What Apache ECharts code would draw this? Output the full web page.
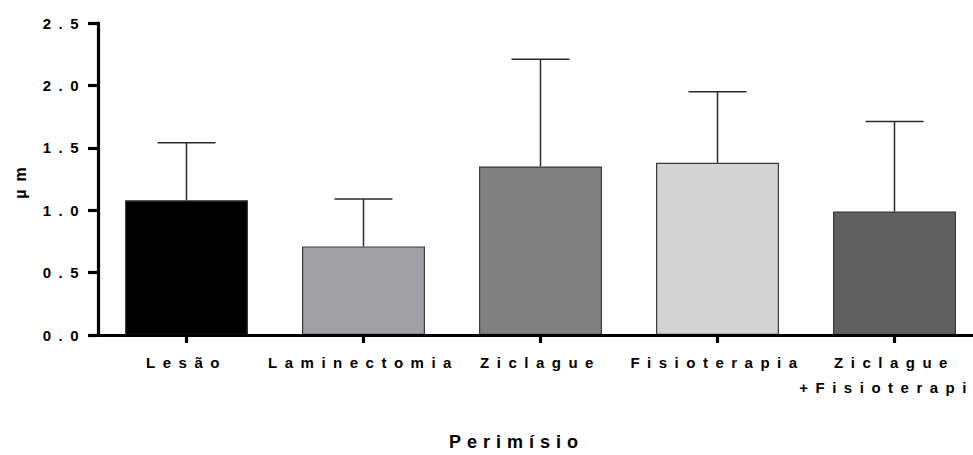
<!DOCTYPE html>
<html>
<head>
<meta charset="utf-8">
<script src="https://cdn.jsdelivr.net/npm/echarts@6/dist/echarts.min.js"></script>
<style>
  html, body { margin: 0; padding: 0; background: #fff; }
  #chart { width: 973px; height: 455px; }
  /* Prism-style wide tracking on the labels */
  #chart text { letter-spacing: 0.5em; }
  #chart text[style*="18px"] { letter-spacing: 6px; }
</style>
</head>
<body>
<div id="chart"></div>
<script>
// Group names, mean values and upper error limits (mean + SD)
const categories = ['Lesão', 'Laminectomia', 'Ziclague', 'Fisioterapia', 'Ziclague\n+Fisioterapia'];
const means = [1.08, 0.71, 1.35, 1.38, 0.99];
const upperLimits = [1.54, 1.09, 2.21, 1.95, 1.71];
const yTicks = [0, 0.5, 1.0, 1.5, 2.0, 2.5];
const barColors = ['#000000', '#a1a0a5', '#808080', '#d3d3d3', '#606060'];

const FONT = '"Liberation Sans", Arial, sans-serif';

const chart = echarts.init(document.getElementById('chart'), null, { renderer: 'svg' });

const errorData = categories.map((c, i) => [i, means[i], upperLimits[i]]);

const axisStroke = { color: '#000000', width: 3.2, type: 'solid', opacity: 1 };

chart.setOption({
  animation: false,
  backgroundColor: '#ffffff',
  title: {
    text: 'Perimísio',
    left: 449,
    top: 433,
    padding: 0,
    textStyle: { fontFamily: FONT, fontWeight: 'bold', fontSize: 18, color: '#000' }
  },
  grid: { left: 98, top: 23, width: 885, height: 312, outerBoundsMode: 'none', containLabel: false },
  xAxis: {
    type: 'category',
    data: categories,
    z: 5,
    axisLine: { show: true, lineStyle: axisStroke },
    axisTick: { show: true, alignWithLabel: true, length: 8, lineStyle: axisStroke },
    axisLabel: {
      interval: 0,
      margin: 15,
      fontFamily: FONT,
      fontWeight: 'bold',
      fontSize: 15,
      lineHeight: 25,
      color: '#000'
    }
  },
  yAxis: {
    type: 'value',
    min: yTicks[0],
    max: yTicks[yTicks.length - 1],
    interval: 0.5,
    z: 5,
    name: 'µm',
    nameLocation: 'middle',
    nameRotate: 90,
    nameGap: 70,
    nameTextStyle: { fontFamily: FONT, fontWeight: 'bold', fontSize: 16, color: '#000' },
    axisLine: { show: true, lineStyle: axisStroke },
    axisTick: { show: true, length: 10, lineStyle: axisStroke },
    splitLine: { show: false },
    axisLabel: {
      margin: 12,
      fontFamily: FONT,
      fontWeight: 'bold',
      fontSize: 15,
      color: '#000',
      formatter: v => v.toFixed(1)
    }
  },
  series: [
    {
      type: 'bar',
      barWidth: 123,
      data: means.map((v, i) => ({
        value: v,
        itemStyle: { color: barColors[i], borderColor: '#3a3a3a', borderWidth: 1.2 }
      })),
      z: 2
    },
    {
      // upper error bars with caps
      type: 'custom',
      data: errorData,
      z: 3,
      renderItem: function (params, api) {
        const x = api.value(0);
        const base = api.coord([x, api.value(1)]);
        const top = api.coord([x, api.value(2)]);
        const half = 29;
        const style = { stroke: '#2a2a2a', lineWidth: 1.5 };
        return {
          type: 'group',
          children: [
            { type: 'line', shape: { x1: base[0], y1: base[1], x2: top[0], y2: top[1] }, style: style },
            { type: 'line', shape: { x1: top[0] - half, y1: top[1], x2: top[0] + half, y2: top[1] }, style: style }
          ]
        };
      }
    }
  ]
});
</script>
</body>
</html>
